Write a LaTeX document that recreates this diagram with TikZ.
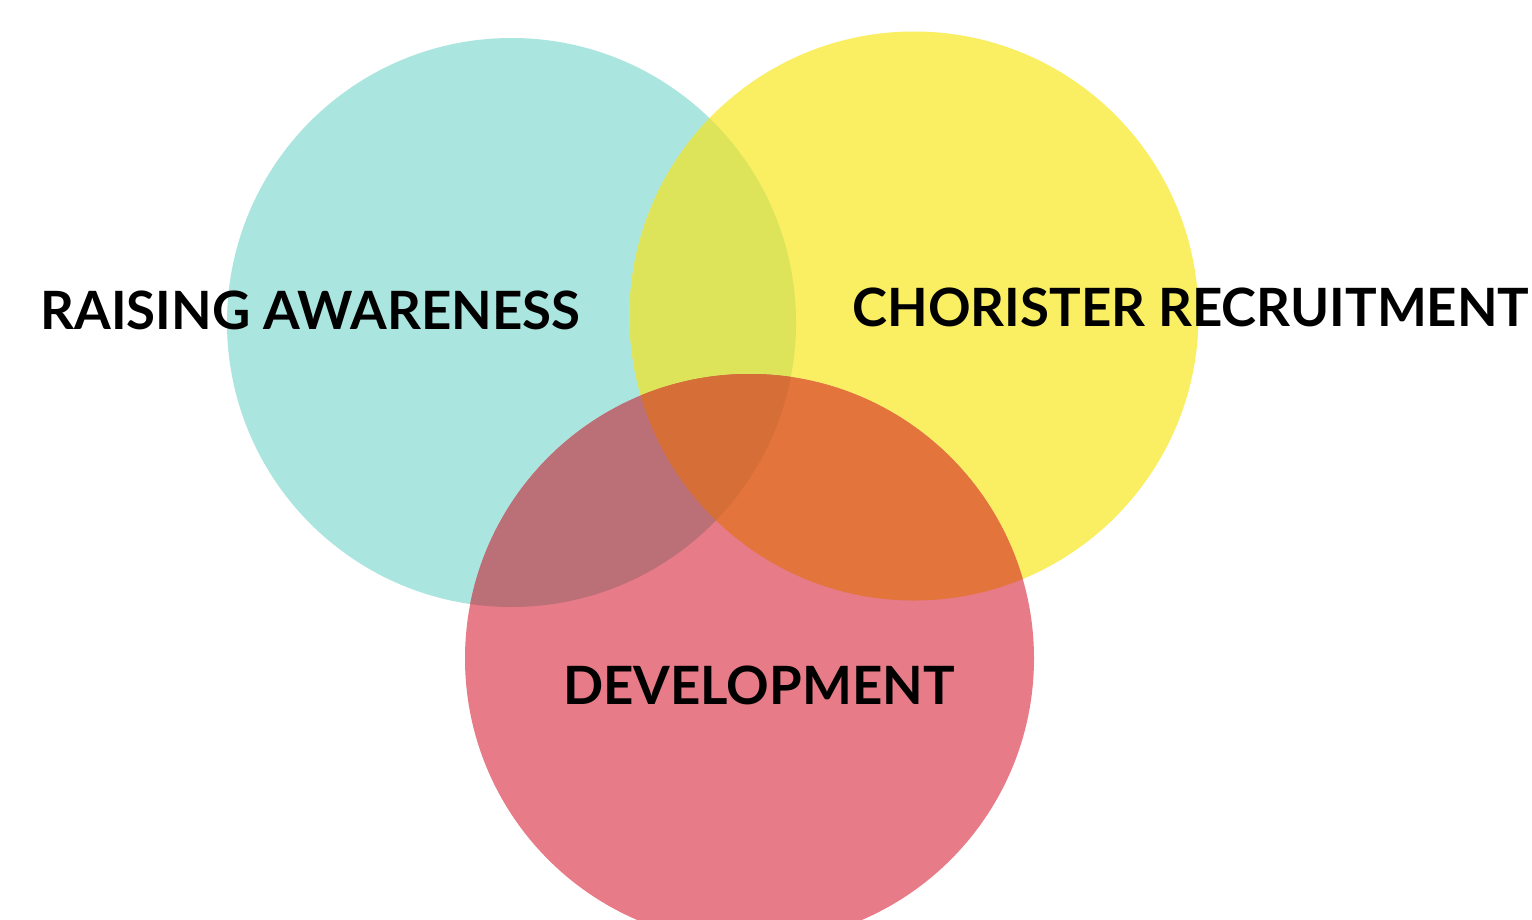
\documentclass[tikz,border=0pt]{standalone}
\usepackage{fontspec}
\setmainfont{Lato}[BoldFont={* Bold}]
\definecolor{cA}{HTML}{AAE6DF}
\definecolor{cY}{HTML}{FAEE62}
\definecolor{cR}{HTML}{E77B87}
\definecolor{cAY}{HTML}{DDE45A}
\definecolor{cAR}{HTML}{BB7077}
\definecolor{cYR}{HTML}{E3743C}
\definecolor{cAYR}{HTML}{D66E37}
\begin{document}
\begin{tikzpicture}[x=1pt,y=-1pt,
  lbl/.style={anchor=base,inner sep=0pt,font=\fontsize{52.8}{58}\selectfont\bfseries,text=black}]
\useasboundingbox (0,0) rectangle (1532,919);
\fill[white] (0,0) rectangle (1532,919);
\coordinate (ca) at (511.5,322.5);
\coordinate (cy) at (914,316);
\coordinate (cr) at (749.5,658.5);
\def\rr{284.5}
\begin{scope}
\clip (0,0) rectangle (1532,919);
\fill[cA] (ca) circle[radius=\rr];
\fill[cY] (cy) circle[radius=\rr];
\fill[cR] (cr) circle[radius=\rr];
\begin{scope}
\clip (ca) circle[radius=\rr];
\fill[cAY] (cy) circle[radius=\rr];
\fill[cAR] (cr) circle[radius=\rr];
\end{scope}
\begin{scope}
\clip (cy) circle[radius=\rr];
\fill[cYR] (cr) circle[radius=\rr];
\end{scope}
\begin{scope}
\clip (ca) circle[radius=\rr];
\clip (cy) circle[radius=\rr];
\fill[cAYR] (cr) circle[radius=\rr];
\end{scope}
\end{scope}
\node[lbl] (ra) at (310.5,329) {RAISING AWARENESS};
\node[lbl] (cre) at (1191,326) {CHORISTER RECRUITMENT};
\node[lbl] (dev) at (759,704) {DEVELOPMENT};
\end{tikzpicture}
\end{document}
